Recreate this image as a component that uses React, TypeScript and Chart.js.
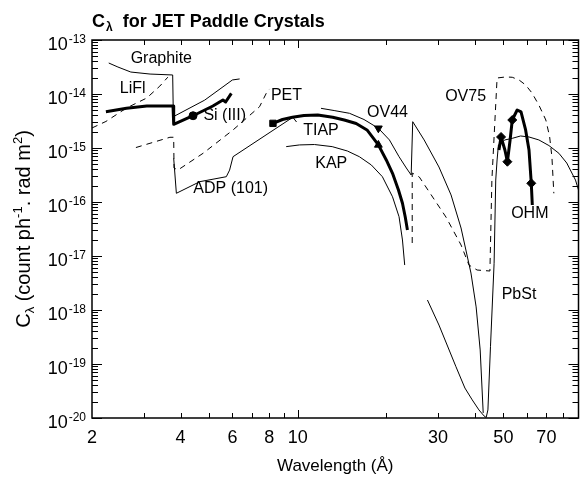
import React, { useEffect, useRef } from 'react';
import { Chart, registerables } from 'chart.js';

Chart.register(...registerables);

// ---- data: [wavelength (Å), C_λ (count ph^-1 rad m^2)] ----
const graphite = [[2.28, 3.75e-14], [2.45, 3.16e-14], [2.71, 2.55e-14], [3.15, 2.34e-14], [3.76, 2.25e-14], [3.78, 3.8e-15], [4.83, 7.7e-15], [6.0, 1.82e-14], [6.35, 1.9e-14]];
const lifSi = [[2.23, 4.7e-15], [2.62, 5.43e-15], [3.07, 6.0e-15], [3.77, 6.0e-15], [3.79, 2.75e-15], [4.41, 3.96e-15], [5.15, 6.0e-15], [5.57, 7.74e-15], [5.69, 7.1e-15], [5.95, 1.03e-14]];
const dashedA = [[2.0, 2.35e-15], [2.23, 3.1e-15], [2.62, 5.5e-15], [3.07, 8.43e-15], [3.4, 1.4e-14], [3.62, 2.05e-14]];
const pet = [[2.82, 1.02e-15], [3.68, 1.58e-15], [3.79, 1.58e-15], [3.8, 4.26e-16], [3.92, 3.92e-16], [4.77, 7.98e-16], [6.03, 2.16e-15], [7.42, 5.82e-15], [7.82, 1.03e-14], [8.03, 1.24e-14]];
const adp = [[3.79, 6.44e-16], [3.87, 1.45e-16], [4.65, 2.38e-16], [5.72, 2.94e-16], [5.87, 3.9e-16], [6.03, 6.9e-16], [9.63, 3.71e-15], [9.91, 3.03e-15]];
const tiap = [[8.24, 2.86e-15], [8.88, 3.37e-15], [9.6, 3.71e-15], [10.5, 4.0e-15], [11.7, 4.08e-15], [13.15, 3.71e-15], [14.4, 3.3e-15], [15.8, 2.84e-15], [17.2, 2.16e-15], [18.8, 1.14e-15], [20.0, 6.0e-16], [21.0, 3.4e-16], [22.0, 1.67e-16], [22.7, 9.46e-17], [23.2, 5.27e-17], [23.6, 3.03e-17]];
const ov44 = [[12.0, 5.43e-15], [13.3, 4.94e-15], [15.0, 4.39e-15], [16.8, 3.37e-15], [18.8, 2.32e-15], [20.5, 1.41e-15], [22.1, 6.9e-16], [23.4, 4.26e-16], [24.3, 3.16e-16], [24.6, 3.07e-15], [26.9, 1.41e-15], [30.2, 4.45e-16], [33.2, 1.35e-16], [35.9, 3.3e-17], [38.8, 4.84e-18], [40.4, 1.14e-18], [41.7, 1.82e-19], [42.7, 1.24e-20]];
const kap = [[9.14, 1.06e-15], [10.14, 1.14e-15], [11.4, 1.16e-15], [13.1, 1.06e-15], [14.75, 8.8e-16], [16.2, 6.9e-16], [17.8, 4.84e-16], [19.4, 2.94e-16], [21.0, 1.25e-16], [22.1, 5.34e-17], [22.7, 1.98e-17], [23.1, 6.8e-18]];
const ov75 = [[24.5, 1.74e-17], [24.5, 3.44e-16], [25.9, 2.9e-16], [31.9, 5.27e-17], [35.9, 1.6e-17], [38.2, 6.8e-18], [40.7, 5.5e-18], [45.0, 5.27e-18], [45.7, 2.55e-16], [47.6, 1.98e-14], [51.0, 2.07e-14], [53.6, 2.04e-14], [56.5, 1.82e-14], [59.5, 1.47e-14], [62.5, 1.05e-14], [66.0, 6.25e-15], [69.7, 3.3e-15], [71.8, 1.62e-15], [73.1, 6.8e-16], [74.2, 1.45e-16]];
const pbst = [[27.6, 1.53e-18], [30.2, 5.27e-19], [34.5, 8.9e-20], [37.0, 3.59e-20], [39.2, 2.16e-20], [41.3, 1.41e-20], [43.0, 1.09e-20], [43.7, 1.02e-20], [44.3, 1.41e-20], [45.2, 2.09e-19], [46.5, 7.33e-18], [47.1, 2.55e-16], [47.6, 6.0e-16], [48.1, 1.14e-15], [50.6, 1.41e-15], [53.6, 1.51e-15], [57.2, 1.67e-15], [61.1, 1.6e-15], [66.0, 1.41e-15], [71.4, 1.11e-15], [77.2, 7.98e-16], [82.1, 5.27e-16], [87.9, 2.55e-16], [90, 1.67e-16]];
const ohm = [[48.3, 9.18e-16], [49.1, 1.6e-15], [50.6, 9.18e-16], [51.6, 5.57e-16], [52.7, 1.41e-15], [53.6, 3.3e-15], [55.7, 5.06e-15], [57.4, 4.65e-15], [59.5, 2.16e-15], [61.1, 9.18e-16], [62.2, 2.22e-16], [62.7, 8.8e-17]];

// markers
const circleMarks = [[4.41, 3.96e-15]];
const squareMarks = [[8.24, 2.86e-15]];
const triUpMarks = [[18.8, 1.14e-15]];
const triDownMarks = [[18.8, 2.32e-15]];
const diamondMarks = [[49.1, 1.6e-15], [51.6, 5.57e-16], [53.6, 3.3e-15], [62.2, 2.22e-16]];

// curve names, anchored in data coordinates
const curveLabels: [string, number, number][] = [
  ['Graphite', 3.44, 4.45e-14],
  ['LiFl', 2.75, 1.24e-14],
  ['Si (III)', 5.65, 3.92e-15],
  ['PET', 9.16, 9.18e-15],
  ['ADP (101)', 5.92, 1.74e-16],
  ['TIAP', 12.0, 2.07e-15],
  ['OV44', 20.2, 4.44e-15],
  ['KAP', 13.0, 5.06e-16],
  ['OV75', 37.2, 8.8e-15],
  ['OHM', 61.5, 6.0e-17],
  ['PbSt', 56.5, 1.9e-18],
];

// axes
const xMin = 2;
const xMax = 90;
const xTickValues = [2, 3, 4, 5, 6, 7, 8, 9, 10, 20, 30, 40, 50, 60, 70, 80];
const xTickLabels = [2, 4, 6, 8, 10, 30, 50, 70];
const yExponents = [-20, -19, -18, -17, -16, -15, -14, -13];

const FONT = '"Liberation Sans", Arial, Helvetica, sans-serif';

const pts = (a: number[][]) => a.map(([x, y]) => ({ x, y }));

const line = (a: number[][], width: number, dashed = false) => ({
  data: pts(a),
  borderColor: '#000',
  backgroundColor: '#000',
  borderWidth: width,
  borderDash: dashed ? [6, 5] : [],
  pointRadius: 0,
  pointHoverRadius: 0,
  fill: false,
  tension: 0,
  borderJoinStyle: 'round' as const,
});

const marks = (a: number[][], style: string, radius: number, rotation = 0) => ({
  data: pts(a),
  showLine: false,
  pointStyle: style,
  pointRadius: radius,
  pointRotation: rotation,
  pointBackgroundColor: '#000',
  pointBorderColor: '#000',
  pointBorderWidth: 1,
});

const decor = {
  id: 'decor',
  afterDraw(chart: any) {
    const { ctx, chartArea: a, scales } = chart;
    const xs = scales.x;
    const ys = scales.y;
    ctx.save();
    ctx.strokeStyle = '#000';
    ctx.fillStyle = '#000';
    ctx.setLineDash([]);

    // inward ticks on all four sides
    ctx.lineWidth = 1;
    ctx.beginPath();
    xTickValues.forEach((v) => {
      if (v <= xMin) return;
      const px = Math.round(xs.getPixelForValue(v)) + 0.5;
      const len = v === 10 ? 8 : 5;
      ctx.moveTo(px, a.bottom);
      ctx.lineTo(px, a.bottom - len);
      ctx.moveTo(px, a.top);
      ctx.lineTo(px, a.top + len);
    });
    yExponents.forEach((e) => {
      for (let k = 1; k <= 9; k++) {
        const val = k * Math.pow(10, e);
        if (val > ys.max * 1.0001) continue;
        const py = Math.round(ys.getPixelForValue(val)) + 0.5;
        const len = k === 1 ? 10 : 6;
        ctx.moveTo(a.left, py);
        ctx.lineTo(a.left + len, py);
        ctx.moveTo(a.right, py);
        ctx.lineTo(a.right - len, py);
      }
    });
    ctx.stroke();

    // frame
    ctx.lineWidth = 1.5;
    ctx.strokeRect(a.left, a.top, a.right - a.left, a.bottom - a.top);

    // y tick labels 10^e
    ctx.textBaseline = 'alphabetic';
    yExponents.forEach((e) => {
      const py = ys.getPixelForValue(Math.pow(10, e));
      const sup = String(e);
      ctx.font = `12px ${FONT}`;
      const sw = ctx.measureText(sup).width;
      const right = a.left - 6;
      ctx.textAlign = 'right';
      ctx.fillText(sup, right, py + 3);
      ctx.font = `18px ${FONT}`;
      ctx.fillText('10', right - sw - 1, py + 10);
    });

    // curve labels
    ctx.font = `16px ${FONT}`;
    ctx.textAlign = 'center';
    ctx.textBaseline = 'middle';
    curveLabels.forEach(([t, x, y]) => {
      ctx.fillText(t, xs.getPixelForValue(x), ys.getPixelForValue(y));
    });

    // chart title
    ctx.textAlign = 'left';
    ctx.textBaseline = 'alphabetic';
    let tx = a.left;
    ctx.font = `bold 18px ${FONT}`;
    ctx.fillText('C', tx, 27);
    tx += ctx.measureText('C').width + 1;
    ctx.font = `bold 12px ${FONT}`;
    ctx.fillText('λ', tx, 31);
    tx += ctx.measureText('λ').width;
    ctx.font = `bold 18px ${FONT}`;
    ctx.fillText('  for JET Paddle Crystals', tx, 27);

    // y axis title (rotated, with sub/superscripts)
    const parts: [string, number, number][] = [
      ['C', 20, 0],
      ['λ', 13, 4],
      [' (count ph', 20, 0],
      ['-1', 13, -8],
      ['. rad m', 20, 0],
      ['2', 13, -8],
      [')', 20, 0],
    ];
    let total = 0;
    parts.forEach(([t, s]) => {
      ctx.font = `${s}px ${FONT}`;
      total += ctx.measureText(t).width;
    });
    ctx.save();
    ctx.translate(30, (a.top + a.bottom) / 2);
    ctx.rotate(-Math.PI / 2);
    let lx = -total / 2;
    parts.forEach(([t, s, dy]) => {
      ctx.font = `${s}px ${FONT}`;
      ctx.fillText(t, lx, dy);
      lx += ctx.measureText(t).width;
    });
    ctx.restore();

    ctx.restore();
  },
};

export default function App() {
  const ref = useRef<HTMLCanvasElement>(null);
  useEffect(() => {
    const chart = new Chart(ref.current as HTMLCanvasElement, {
      type: 'line',
      data: {
        datasets: [
          line(graphite, 1),
          line(dashedA, 1, true),
          line(pet, 1, true),
          line(adp, 1),
          line(lifSi, 3),
          line(kap, 1),
          line(tiap, 3),
          line(ov44, 1),
          line(ov75, 1, true),
          line(pbst, 1),
          line(ohm, 3),
          marks(circleMarks, 'circle', 4),
          marks(squareMarks, 'rect', 4.5),
          marks(triUpMarks, 'triangle', 4.5),
          marks(triDownMarks, 'triangle', 4.5, 180),
          marks(diamondMarks, 'rectRot', 4.5),
        ] as any,
      },
      options: {
        animation: false,
        responsive: false,
        layout: { padding: { top: 40, right: 4, left: 0, bottom: 0 } },
        plugins: {
          legend: { display: false },
          tooltip: { enabled: false },
          title: { display: false },
        },
        scales: {
          x: {
            type: 'logarithmic',
            min: xMin,
            max: xMax,
            grid: { display: false, drawTicks: false },
            border: { display: false },
            afterBuildTicks: (s: any) => {
              s.ticks = xTickValues.map((v) => ({ value: v }));
            },
            afterFit: (s: any) => {
              s.height = 62;
            },
            ticks: {
              autoSkip: false,
              maxRotation: 0,
              padding: 9,
              color: '#000',
              font: { family: FONT, size: 18 },
              callback: (v: any) => (xTickLabels.includes(Number(v)) ? String(v) : ''),
            },
            title: {
              display: true,
              text: 'Wavelength (Å)',
              color: '#000',
              font: { family: FONT, size: 17 },
              padding: { top: 0, bottom: 3 },
            },
          },
          y: {
            type: 'logarithmic',
            min: 1e-20,
            max: 1e-13,
            grid: { display: false, drawTicks: false },
            border: { display: false },
            ticks: { display: false },
            afterFit: (s: any) => {
              s.width = 92;
            },
          },
        },
      } as any,
      plugins: [decor],
    });
    return () => chart.destroy();
  }, []);
  return (
    <div style={{ position: 'fixed', left: 0, top: 0, width: 584, height: 480, background: '#fff' }}>
      <canvas ref={ref} width={584} height={480} style={{ display: 'block' }} />
    </div>
  );
}
